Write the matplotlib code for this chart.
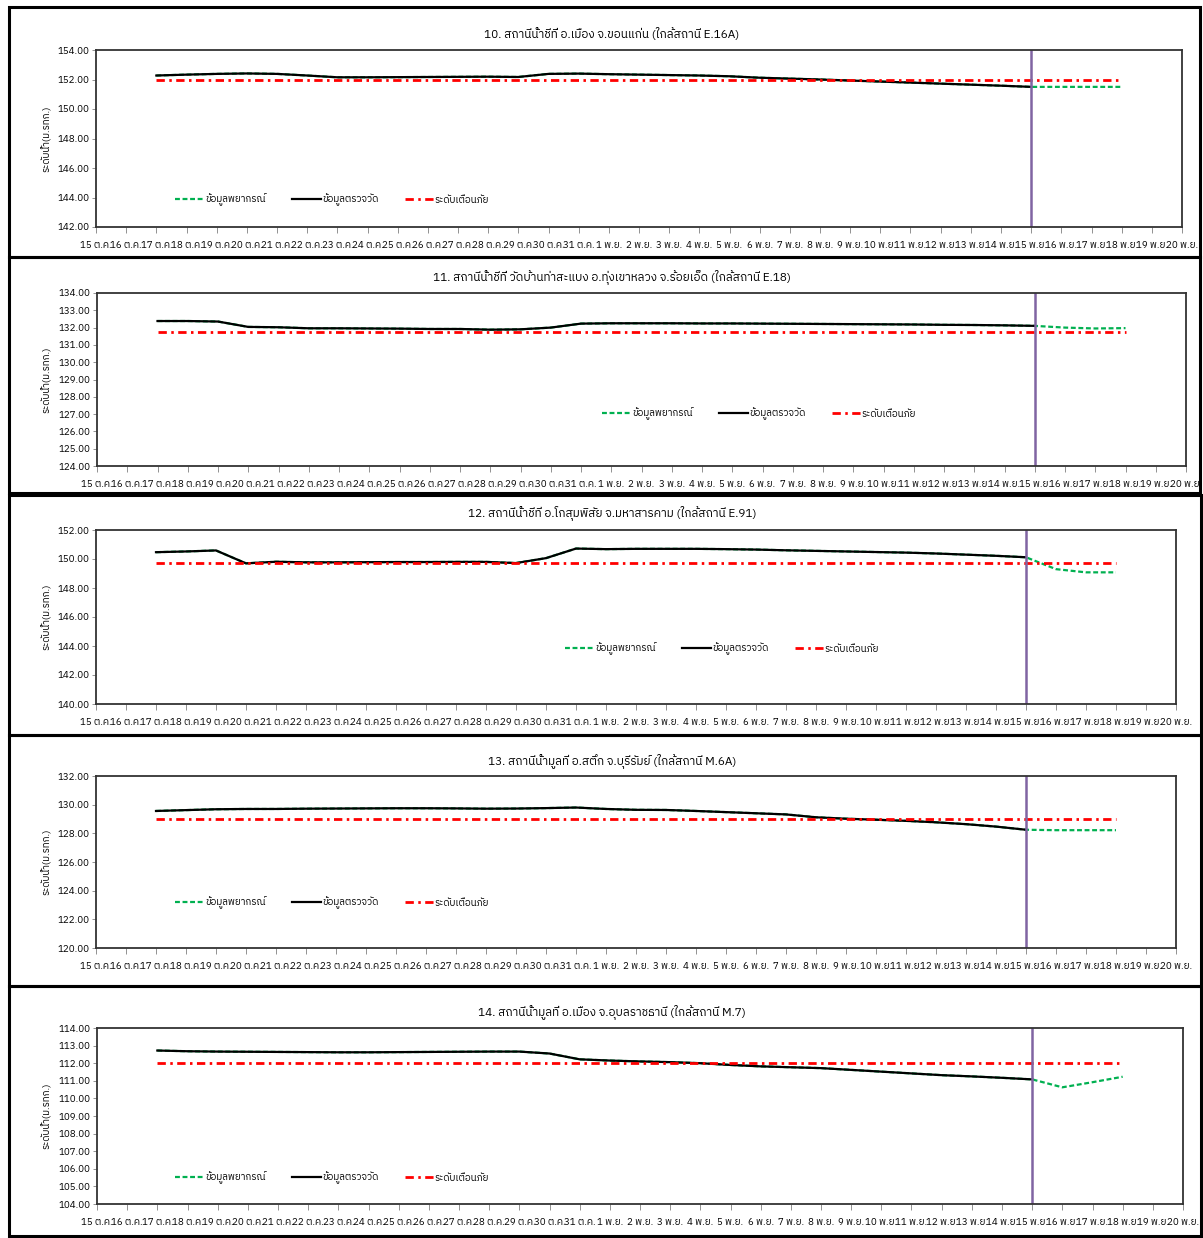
import numpy as np
import matplotlib
matplotlib.use("Agg")
import matplotlib.pyplot as plt
from matplotlib import font_manager
from matplotlib.ft2font import FT2Font
from matplotlib.patches import Rectangle


def find_thai_font():
    # pick an installed family that has Thai glyphs
    found = []
    for f in font_manager.fontManager.ttflist:
        try:
            if 0x0E01 in FT2Font(f.fname).get_charmap():
                found.append(f.name)
        except Exception:
            pass
    for name in found:
        if "Thai" in name and "Looped" not in name:
            return name
    if found:
        return found[0]
    return "DejaVu Sans"


thai = find_thai_font()
plt.rcParams["font.family"] = [thai, "DejaVu Sans"]

# categories: 15 Oct .. 20 Nov
days = [f"{d} ต.ค." for d in range(15, 32)] + [f"{d} พ.ย." for d in range(1, 21)]

titles = [
    "10. สถานีน้ำชีที่ อ.เมือง จ.ขอนแก่น (ใกล้สถานี E.16A)",
    "11. สถานีน้ำชีที่ วัดบ้านท่าสะแบง อ.ทุ่งเขาหลวง จ.ร้อยเอ็ด (ใกล้สถานี E.18)",
    "12. สถานีน้ำชีที่ อ.โกสุมพิสัย จ.มหาสารคาม (ใกล้สถานี E.91)",
    "13. สถานีน้ำมูลที่ อ.สตึก จ.บุรีรัมย์ (ใกล้สถานี M.6A)",
    "14. สถานีน้ำมูลที่ อ.เมือง จ.อุบลราชธานี (ใกล้สถานี M.7)",
]

# observed levels 17 Oct .. 15 Nov
obs_e16a = [152.27, 152.33, 152.38, 152.41, 152.38, 152.27, 152.15, 152.15, 152.16, 152.17,
            152.18, 152.19, 152.17, 152.38, 152.40, 152.36, 152.33, 152.30, 152.27, 152.22,
            152.12, 152.06, 152.00, 151.93, 151.86, 151.79, 151.72, 151.65, 151.58, 151.50]
obs_e18 = [132.38, 132.38, 132.35, 132.04, 132.02, 131.96, 131.96, 131.95, 131.94, 131.92,
           131.92, 131.88, 131.90, 132.00, 132.23, 132.25, 132.25, 132.25, 132.24, 132.24,
           132.23, 132.22, 132.21, 132.20, 132.19, 132.18, 132.16, 132.15, 132.13, 132.10]
obs_e91 = [150.47, 150.52, 150.59, 149.70, 149.81, 149.77, 149.77, 149.78, 149.79, 149.79,
           149.80, 149.80, 149.72, 150.06, 150.72, 150.68, 150.70, 150.70, 150.70, 150.68,
           150.65, 150.60, 150.56, 150.52, 150.48, 150.44, 150.38, 150.30, 150.22, 150.12]
obs_m6a = [129.56, 129.62, 129.68, 129.70, 129.70, 129.72, 129.73, 129.74, 129.75, 129.75,
           129.74, 129.72, 129.73, 129.76, 129.80, 129.70, 129.64, 129.63, 129.56, 129.48,
           129.40, 129.32, 129.12, 129.02, 128.95, 128.87, 128.77, 128.64, 128.47, 128.25]
obs_m7 = [112.72, 112.68, 112.66, 112.65, 112.64, 112.63, 112.62, 112.62, 112.63, 112.64,
          112.65, 112.66, 112.66, 112.55, 112.22, 112.15, 112.10, 112.06, 112.00, 111.90,
          111.82, 111.77, 111.72, 111.62, 111.52, 111.42, 111.32, 111.25, 111.17, 111.08]

# forecast 16 - 18 Nov
fc_e16a = [151.50, 151.50, 151.50]
fc_e18 = [132.00, 131.95, 131.97]
fc_e91 = [149.30, 149.08, 149.08]
fc_m6a = [128.22, 128.22, 128.22]
fc_m7 = [110.63, 110.92, 111.23]

warn = [152.00, 131.75, 149.70, 129.00, 112.00]
ylims = [(142, 154, 2), (124, 134, 1), (140, 152, 2), (120, 132, 2), (104, 114, 1)]

observed = [obs_e16a, obs_e18, obs_e91, obs_m6a, obs_m7]
forecast = [fc_e16a, fc_e18, fc_e91, fc_m6a, fc_m7]

# layout in pixels: left, right, top, bottom of plot area
boxes = [(96, 1182, 50, 227), (97, 1186, 293, 466), (96, 1176, 530, 704),
         (96, 1176, 776, 948), (97, 1183, 1028, 1204)]
title_y = [34, 277, 513, 761, 1012]
legend_pos = [(175, 200), (602, 414), (565, 649), (175, 903), (175, 1178)]
frames = [(9, 7, 1200, 257), (9, 257, 1200, 493), (9, 495, 1201, 735),
          (9, 735, 1201, 986), (9, 986, 1201, 1236)]

W, H = 1203, 1238
fig = plt.figure(figsize=(W / 100, H / 100), dpi=100)

for fr in frames:
    x0, y0, x1, y1 = fr
    fig.patches.append(Rectangle((x0 / W, 1 - y1 / H), (x1 - x0) / W, (y1 - y0) / H,
                                 transform=fig.transFigure, fill=False,
                                 edgecolor="black", linewidth=2.2))

start = 2   # 17 Oct
now = 31    # 15 Nov
x_all = np.arange(len(days))

for i in range(5):
    l, r, t, b = boxes[i]
    ax = fig.add_axes([l / W, 1 - b / H, (r - l) / W, (b - t) / H])
    obs = observed[i]
    fc = obs + forecast[i]
    x_obs = x_all[start:start + len(obs)]
    x_fc = x_all[start:start + len(fc)]

    g, = ax.plot(x_fc, fc, color="#00B050", lw=1.6, ls=(0, (2.2, 1.2)), label="ข้อมูลพยากรณ์")
    k, = ax.plot(x_obs, obs, color="black", lw=1.6, label="ข้อมูลตรวจวัด")
    rd, = ax.plot(x_fc, [warn[i]] * len(x_fc), color="#FF0000", lw=2,
                  ls=(0, (3, 1.6, 0.9, 1.6)), label="ระดับเตือนภัย")
    ax.axvline(now, color="#8064A2", lw=1.8)

    lo, hi, step = ylims[i]
    ax.set_ylim(lo, hi)
    ax.set_yticks(np.arange(lo, hi + step / 2, step))
    ax.set_yticklabels([f"{v:.2f}" for v in np.arange(lo, hi + step / 2, step)], fontsize=7)
    ax.set_xlim(0, len(days) - 1)
    ax.set_xticks(x_all)
    ax.set_xticklabels(days, fontsize=7)
    ax.tick_params(axis="x", length=4, width=0.6, color="#808080", pad=6)
    ax.tick_params(axis="y", length=3, width=0.6, color="#808080", pad=2)
    for s in ax.spines.values():
        s.set_linewidth(1.3)
        s.set_color("#333333")

    fig.text(612 / W, 1 - title_y[i] / H, titles[i], ha="center", va="center", fontsize=8.5)
    fig.text(47 / W, 1 - (t + b) / 2 / H, "ระดับน้ำ(ม.รทก.)", rotation=90,
             ha="center", va="center", fontsize=7)

    lx, ly = legend_pos[i]
    ax.legend(handles=[g, k, rd], ncol=3, frameon=False, fontsize=7,
              loc="center left",
              bbox_to_anchor=((lx - l) / (r - l), (b - ly) / (b - t)),
              borderpad=0, borderaxespad=0, handlelength=3.0,
              handletextpad=0.1, columnspacing=2.7)

plt.savefig("out.png", dpi=100)
